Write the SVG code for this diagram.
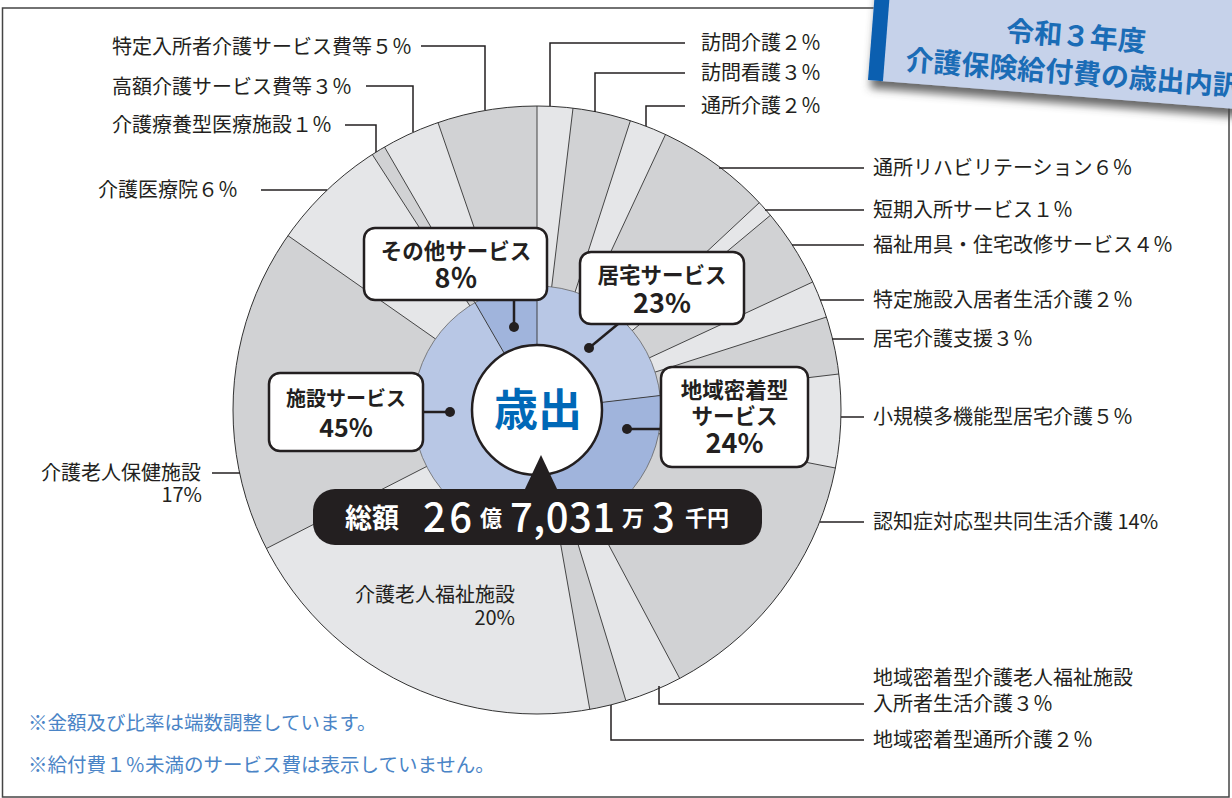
<svg xmlns="http://www.w3.org/2000/svg" width="1232" height="798" viewBox="0 0 1232 798">
<defs>
<style>
text{font-family:"Noto Sans CJK JP","Noto Sans",sans-serif;fill:#231f20}
.lb{font-size:20px}
.cb{font-size:21.5px;font-weight:700;text-anchor:middle}
.cp{font-size:27px;font-weight:700;text-anchor:middle}
.ld{fill:none;stroke:#231f20;stroke-width:1.5}
.dk{fill:#d1d2d4}
.sl{stroke:#333;stroke-width:0.9}
.box{fill:#fff;stroke:#231f20;stroke-width:2.5}
.dot{fill:#231f20}
.cl{stroke:#231f20;stroke-width:2.5}
.fn{font-size:19.5px;fill:#4a84c6}
.wt{fill:#fff}
.tt{font-size:28px;font-weight:700;fill:#1a6cb6;text-anchor:middle}
</style>
<filter id="sh" x="-10%" y="-10%" width="130%" height="140%">
<feDropShadow dx="3" dy="8" stdDeviation="4" flood-color="#444" flood-opacity="0.8"/>
</filter>
</defs>
<rect x="0" y="0" width="1232" height="798" fill="#fff"/>
<rect id="frame" x="2.5" y="8" width="1226.5" height="789" fill="none" stroke="#444" stroke-width="1.5"/>

<g id="outer-ring">
<circle cx="537" cy="410" r="304" fill="#e5e6e8"/>
<path class="dk" d="M537,410 L573.0,108.1 A304,304 0 0 1 630.4,120.7 Z"/>
<path class="dk" d="M537,410 L665.5,134.5 A304,304 0 0 1 759.3,202.7 Z"/>
<path class="dk" d="M537,410 L770.4,215.3 A304,304 0 0 1 812.7,282.0 Z"/>
<path class="dk" d="M537,410 L826.4,317.1 A304,304 0 0 1 838.9,374.0 Z"/>
<path class="dk" d="M537,410 L835.4,468.0 A304,304 0 0 1 679.7,678.4 Z"/>
<path class="dk" d="M537,410 L625.9,700.7 A304,304 0 0 1 589.8,709.4 Z"/>
<path class="dk" d="M537,410 L266.4,548.5 A304,304 0 0 1 287.9,235.6 Z"/>
<path class="dk" d="M537,410 L372.3,154.5 A304,304 0 0 1 384.5,147.0 Z"/>
<path class="dk" d="M537,410 L438.0,122.6 A304,304 0 0 1 537,106 Z"/>
<g class="sl">
<line x1="537" y1="410" x2="537" y2="106"/>
<line x1="537" y1="410" x2="573.0" y2="108.1"/>
<line x1="537" y1="410" x2="630.4" y2="120.7"/>
<line x1="537" y1="410" x2="665.5" y2="134.5"/>
<line x1="537" y1="410" x2="759.3" y2="202.7"/>
<line x1="537" y1="410" x2="770.4" y2="215.3"/>
<line x1="537" y1="410" x2="812.7" y2="282.0"/>
<line x1="537" y1="410" x2="826.4" y2="317.1"/>
<line x1="537" y1="410" x2="838.9" y2="374.0"/>
<line x1="537" y1="410" x2="835.4" y2="468.0"/>
<line x1="537" y1="410" x2="679.7" y2="678.4"/>
<line x1="537" y1="410" x2="625.9" y2="700.7"/>
<line x1="537" y1="410" x2="589.8" y2="709.4"/>
<line x1="537" y1="410" x2="266.4" y2="548.5"/>
<line x1="537" y1="410" x2="287.9" y2="235.6"/>
<line x1="537" y1="410" x2="372.3" y2="154.5"/>
<line x1="537" y1="410" x2="384.5" y2="147.0"/>
<line x1="537" y1="410" x2="438.0" y2="122.6"/>
</g>
<circle cx="537" cy="410" r="304" fill="none" stroke="#333" stroke-width="1"/>
</g>

<g id="inner-ring">
<path d="M537,410 L537,286 A124,124 0 0 1 660.2,395.5 Z" fill="#b8c7e5"/>
<path d="M537,410 L660.2,395.5 A124,124 0 0 1 558.5,532.1 Z" fill="#a0b4dc"/>
<path d="M537,410 L558.5,532.1 A124,124 0 0 1 475,302.6 Z" fill="#b8c7e5"/>
<path d="M537,410 L475,302.6 A124,124 0 0 1 537,286 Z" fill="#a0b4dc"/>
<g class="sl">
<line x1="537" y1="410" x2="537" y2="286"/>
<line x1="537" y1="410" x2="660.2" y2="395.5"/>
<line x1="537" y1="410" x2="558.5" y2="532.1"/>
<line x1="537" y1="410" x2="475" y2="302.6"/>
</g>
<circle cx="537" cy="410" r="124" fill="none" stroke="#666" stroke-width="0.8"/>
</g>

<g id="connectors">
<path class="ld" d="M421,46 H485 V110"/>
<path class="ld" d="M366,86 H413 V132"/>
<path class="ld" d="M345,125 H376 V152"/>
<path class="ld" d="M261,190 H327"/>
<path class="ld" d="M212,473 H240"/>
<path class="ld" d="M685,43 H550 V106"/>
<path class="ld" d="M685,73 H595 V112"/>
<path class="ld" d="M685,106 H646 V126"/>
<path class="ld" d="M719,168 H864"/>
<path class="ld" d="M765,210 H864"/>
<path class="ld" d="M792,245 H864"/>
<path class="ld" d="M820,300 H864"/>
<path class="ld" d="M832,339 H864"/>
<path class="ld" d="M841,417 H864"/>
<path class="ld" d="M820,522 H864"/>
<path class="ld" d="M864,704 H659 V686"/>
<path class="ld" d="M864,740 H611 V705"/>
<line class="cl" x1="514" y1="327" x2="514" y2="300"/>
<line class="cl" x1="589" y1="348" x2="618" y2="324"/>
<line class="cl" x1="627" y1="429" x2="661" y2="429"/>
<line class="cl" x1="450" y1="412" x2="423" y2="412"/>
<circle class="dot" cx="514" cy="327" r="5"/>
<circle class="dot" cx="589" cy="348" r="5"/>
<circle class="dot" cx="627" cy="429" r="5"/>
<circle class="dot" cx="450" cy="412" r="5"/>
</g>

<g id="center">
<circle cx="537" cy="410" r="65" fill="#fff" stroke="#231f20" stroke-width="2.5"/>
<text x="538" y="426" style="font-size:44px;font-weight:700;fill:#0068b7;text-anchor:middle">歳出</text>
</g>

<g id="total">
<polygon points="541,455 524,491 558,491" fill="#231f20"/>
<rect x="313" y="489" width="449" height="56" rx="22" fill="#231f20"/>
<text class="wt" x="345" y="528" style="font-size:27px;font-weight:700">総額</text>
<text class="wt" x="423" y="532" textLength="49" style="font-size:40px;font-weight:500">26</text>
<text class="wt" x="480" y="526" style="font-size:22px;font-weight:700">億</text>
<text class="wt" x="510" y="532" textLength="105" style="font-size:40px;font-weight:500">7,031</text>
<text class="wt" x="622" y="526" style="font-size:22px;font-weight:700">万</text>
<text class="wt" x="652" y="532" textLength="25" style="font-size:40px;font-weight:500">3</text>
<text class="wt" x="685" y="526" style="font-size:22px;font-weight:700">千円</text>
</g>

<g id="other-services">
<rect class="box" x="364" y="228" width="183" height="72" rx="11"/>
<text class="cb" x="456" y="259">その他サービス</text>
<text class="cp" x="456" y="288">8％</text>
</g>
<g id="home-services">
<rect class="box" x="580" y="252" width="164" height="72" rx="11"/>
<text class="cb" x="662" y="283">居宅サービス</text>
<text class="cp" x="662" y="313">23%</text>
</g>
<g id="community-services">
<rect class="box" x="661" y="367" width="147" height="100" rx="11"/>
<text class="cb" x="734.5" y="398">地域密着型</text>
<text class="cb" x="734.5" y="424">サービス</text>
<text class="cp" x="734.5" y="453">24%</text>
</g>
<g id="facility-services">
<rect class="box" x="269" y="373" width="154" height="78" rx="11"/>
<text class="cb" x="346" y="406" style="font-size:20px">施設サービス</text>
<text class="cp" x="346" y="437" style="font-size:25px">45%</text>
</g>

<g id="labels">
<text class="lb" x="112" y="54">特定入所者介護サービス費等５％</text>
<text class="lb" x="112" y="94">高額介護サービス費等３％</text>
<text class="lb" x="112" y="132">介護療養型医療施設１％</text>
<text class="lb" x="98" y="197">介護医療院６％</text>
<text class="lb" x="201" y="480" text-anchor="end">介護老人保健施設</text>
<text class="lb" x="202" y="502" text-anchor="end">17%</text>
<text class="lb" x="515" y="602" text-anchor="end">介護老人福祉施設</text>
<text class="lb" x="515" y="625" text-anchor="end">20%</text>
<text class="lb" x="701" y="50">訪問介護２％</text>
<text class="lb" x="701" y="80">訪問看護３％</text>
<text class="lb" x="701" y="113">通所介護２％</text>
<text class="lb" x="873" y="175">通所リハビリテーション６％</text>
<text class="lb" x="873" y="217">短期入所サービス１％</text>
<text class="lb" x="873" y="252">福祉用具・住宅改修サービス４％</text>
<text class="lb" x="873" y="307">特定施設入居者生活介護２％</text>
<text class="lb" x="873" y="346">居宅介護支援３％</text>
<text class="lb" x="873" y="424">小規模多機能型居宅介護５％</text>
<text class="lb" x="873" y="529">認知症対応型共同生活介護 14%</text>
<text class="lb" x="873" y="685">地域密着型介護老人福祉施設</text>
<text class="lb" x="873" y="711">入所者生活介護３％</text>
<text class="lb" x="873" y="747">地域密着型通所介護２％</text>
</g>

<g id="notes">
<text class="fn" x="28" y="730">※金額及び比率は端数調整しています。</text>
<text class="fn" x="28" y="772">※給付費１％未満のサービス費は表示していません。</text>
</g>

<g id="title" transform="translate(868,80) rotate(4.5)">
<rect x="0" y="-130" width="420" height="130" fill="#c6d2ea" filter="url(#sh)"/>
<rect x="0" y="-130" width="15" height="130" fill="#0b5fb0"/>
<text class="tt" x="204" y="-50">令和３年度</text>
<text class="tt" x="204" y="-13">介護保険給付費の歳出内訳</text>
</g>
</svg>
